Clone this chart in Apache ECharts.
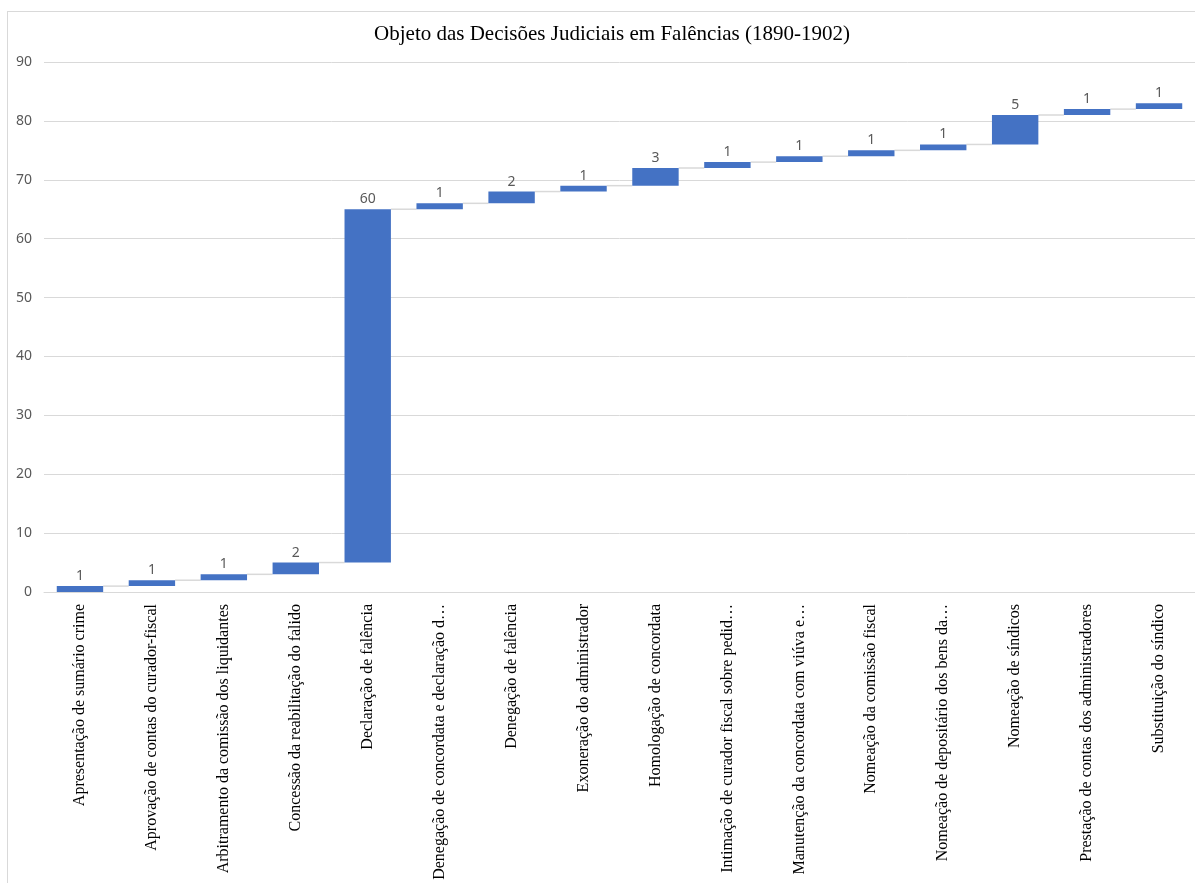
<!DOCTYPE html>
<html>
<head>
<meta charset="utf-8">
<script src="https://cdn.jsdelivr.net/npm/echarts@6/dist/echarts.min.js"></script>
<style>
  html, body { margin: 0; padding: 0; background: #ffffff; }
  #frame { position: absolute; left: 7px; top: 11px; width: 1200px; height: 880px; border: 1px solid #d9d9d9; box-sizing: border-box; }
  #chart { position: absolute; left: 0; top: 0; width: 1195px; height: 883px; }
</style>
</head>
<body>
<div id="frame"></div>
<div id="chart"></div>
<script>
// Subjects of court decisions in bankruptcy cases, 1890-1902
const categories = [
  'Apresentação de sumário crime',
  'Aprovação de contas do curador-fiscal',
  'Arbitramento da comissão dos liquidantes',
  'Concessão da reabilitação do falido',
  'Declaração de falência',
  'Denegação de concordata e declaração d…',
  'Denegação de falência',
  'Exoneração do administrador',
  'Homologação de concordata',
  'Intimação de curador fiscal sobre pedid…',
  'Manutenção da concordata com viúva e…',
  'Nomeação da comissão fiscal',
  'Nomeação de depositário dos bens da…',
  'Nomeação de síndicos',
  'Prestação de contas dos administradores',
  'Substituição do síndico'
];
const counts = [1, 1, 1, 2, 60, 1, 2, 1, 3, 1, 1, 1, 1, 5, 1, 1];
const yTicks = { min: 0, max: 90, interval: 10 };

// Running totals: each bar floats on the sum of the ones before it
const offsets = [];
const totals = [];
let running = 0;
counts.forEach(v => { offsets.push(running); running += v; totals.push(running); });

const chart = echarts.init(document.getElementById('chart'), null, { renderer: 'canvas' });

chart.setOption({
  animation: false,
  title: {
    text: 'Objeto das Decisões Judiciais em Falências (1890-1902)',
    left: 607, top: 19, textAlign: 'center',
    textStyle: { fontFamily: 'Liberation Serif', fontSize: 21, fontWeight: 'normal', color: '#000000' }
  },
  grid: { left: 44, right: 0, top: 62, bottom: 291, containLabel: false },
  xAxis: {
    type: 'category',
    data: categories,
    axisLine: { lineStyle: { color: '#d9d9d9', width: 1 } },
    axisTick: { show: false },
    axisLabel: {
      interval: 0, rotate: 90, margin: 12,
      fontFamily: 'Liberation Serif', fontSize: 16, color: '#000000'
    }
  },
  yAxis: {
    type: 'value',
    min: yTicks.min, max: yTicks.max, interval: yTicks.interval,
    axisLine: { show: false },
    axisTick: { show: false },
    splitLine: { lineStyle: { color: '#d9d9d9', width: 1 } },
    axisLabel: { fontFamily: 'Noto Sans', fontSize: 14, color: '#595959', margin: 12 }
  },
  series: [
    {
      name: 'base', type: 'bar', stack: 'w', barWidth: '64.5%',
      itemStyle: { color: 'transparent' },
      emphasis: { disabled: true },
      data: offsets
    },
    {
      name: 'Decisões', type: 'bar', stack: 'w', barWidth: '64.5%',
      itemStyle: { color: '#4472C4' },
      label: {
        show: true, position: 'top', distance: 3,
        fontFamily: 'Noto Sans', fontSize: 14, color: '#595959'
      },
      data: counts
    },
    {
      // thin connectors from the top of each bar to the start of the next
      name: 'connectors', type: 'custom', silent: true, z: 1,
      data: totals.slice(0, -1).map((t, i) => [i, t]),
      renderItem: function (params, api) {
        const i = api.value(0);
        const y = api.value(1);
        const band = api.size([1, 0])[0];
        const half = band * 0.645 / 2;
        const p1 = api.coord([i, y]);
        const p2 = api.coord([i + 1, y]);
        return {
          type: 'line',
          shape: { x1: p1[0] + half, y1: p1[1], x2: p2[0] - half, y2: p2[1] },
          style: { stroke: '#d9d9d9', lineWidth: 1.5 }
        };
      }
    }
  ]
});
</script>
</body>
</html>
